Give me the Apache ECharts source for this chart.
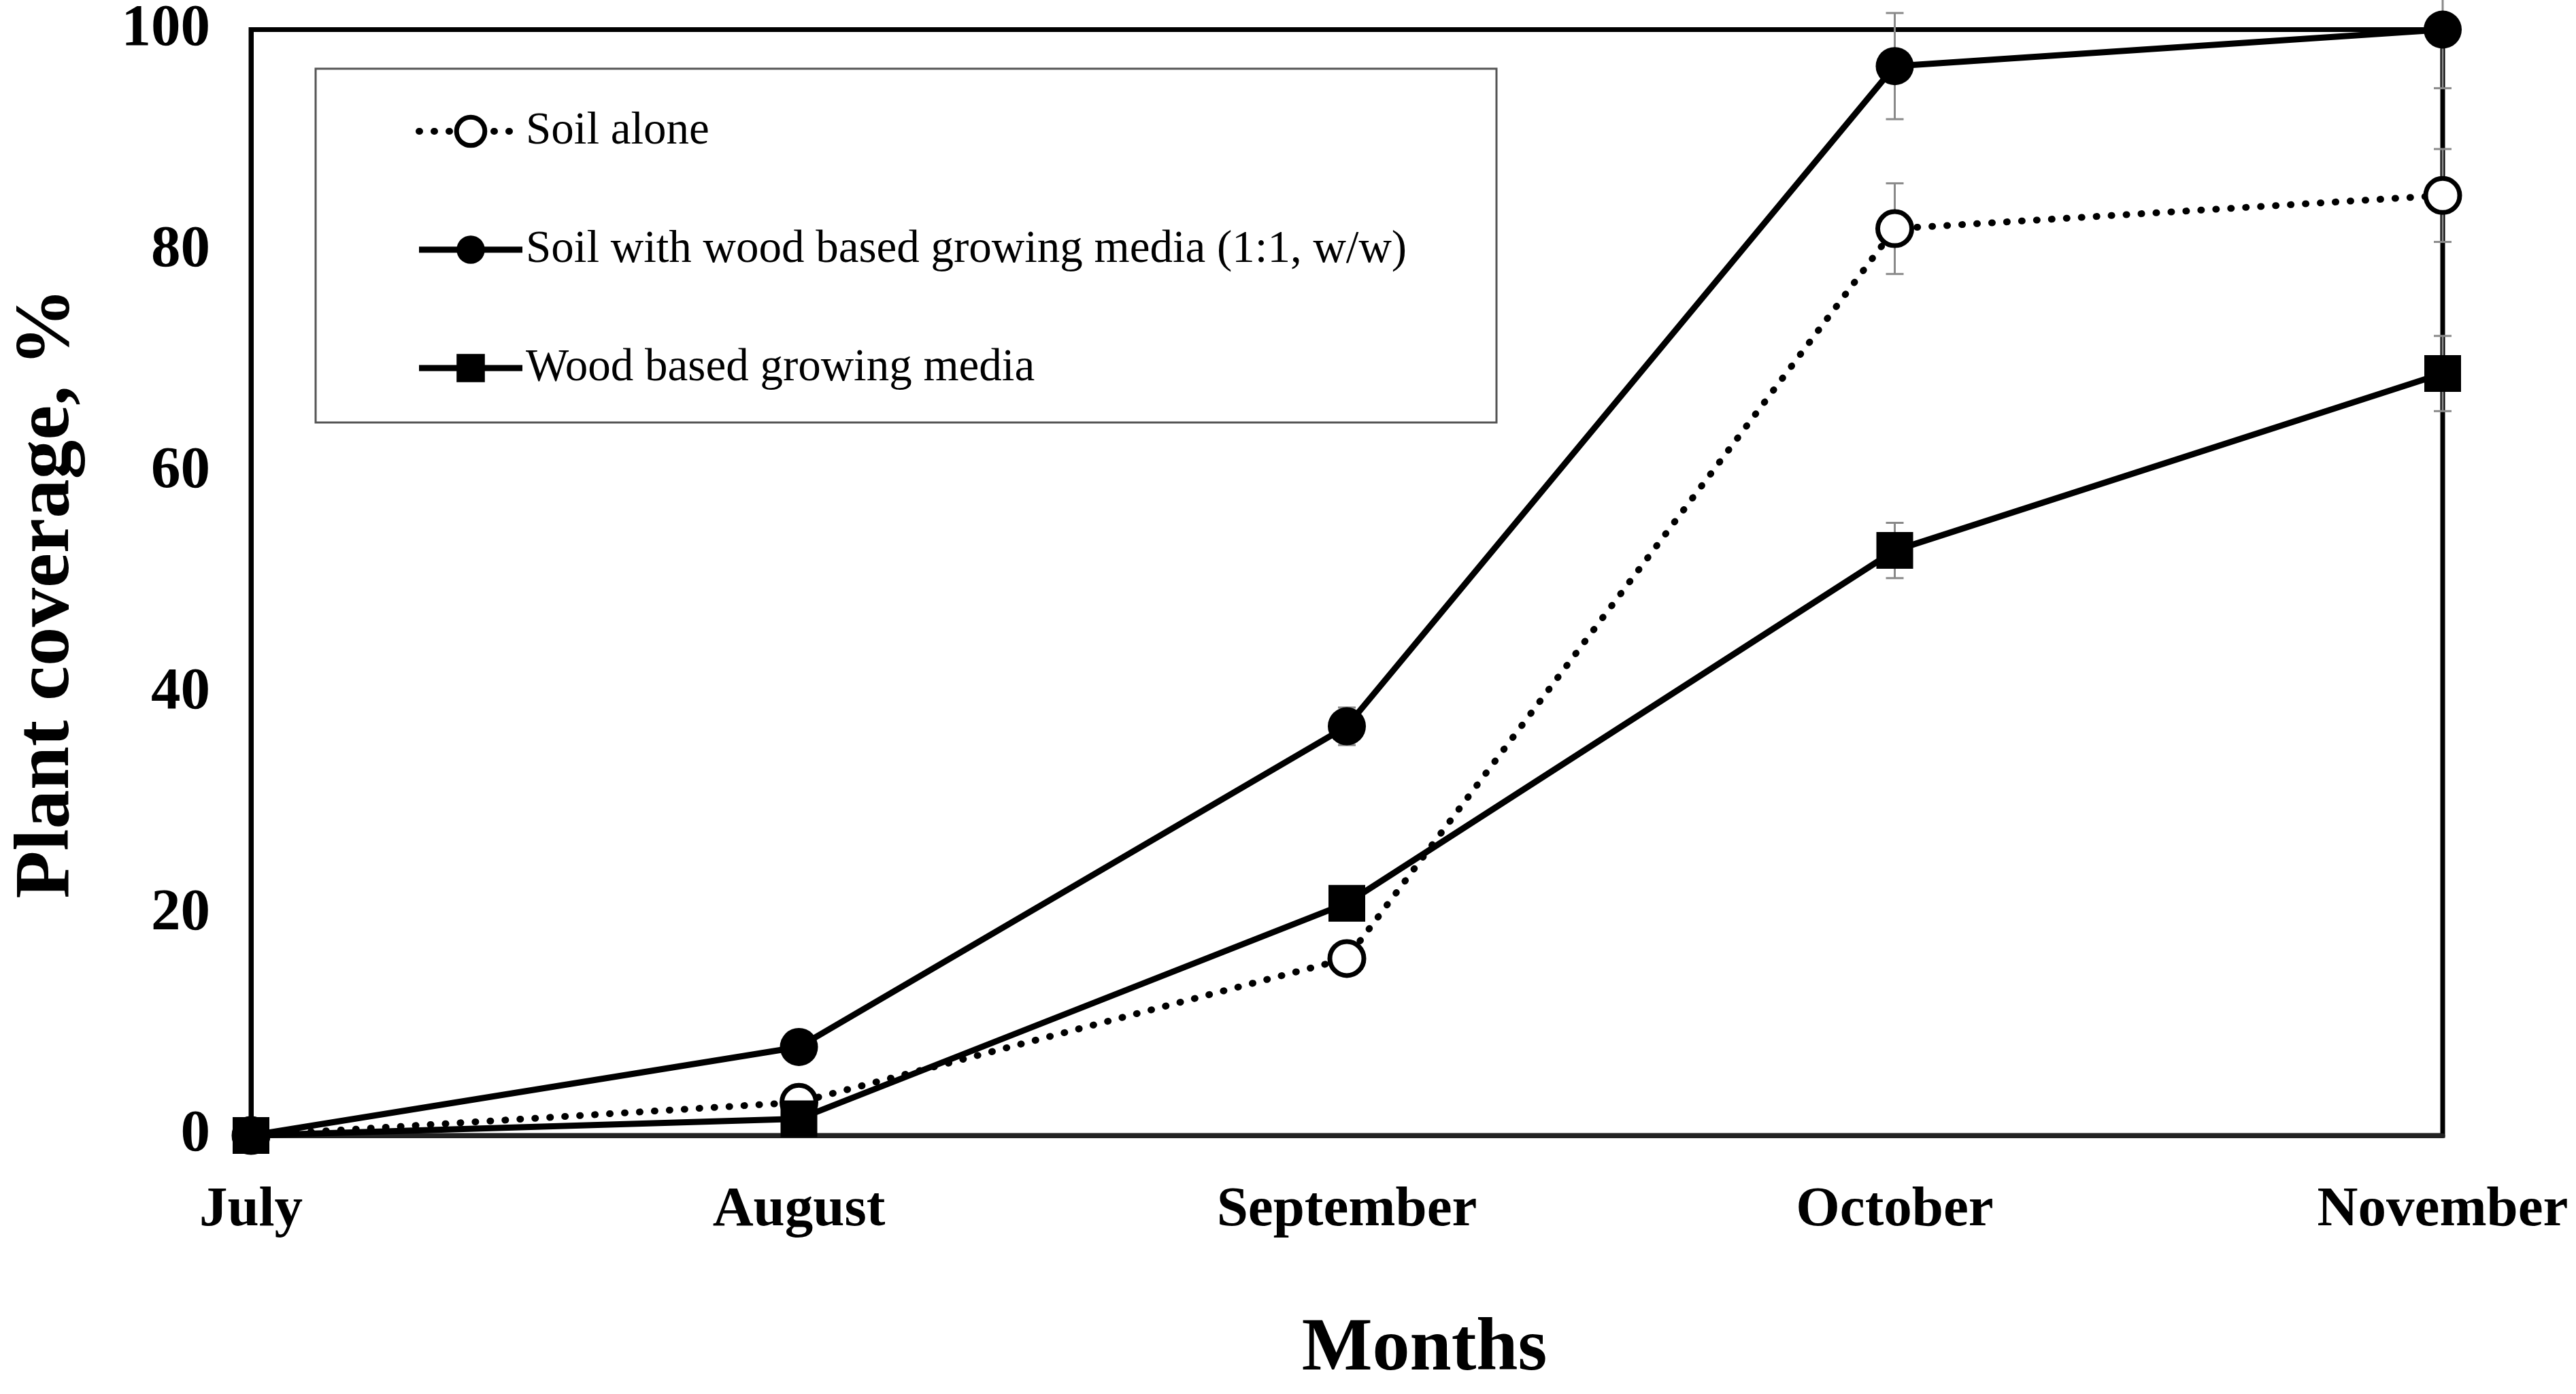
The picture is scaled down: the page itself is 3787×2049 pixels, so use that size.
<!DOCTYPE html>
<html><head><meta charset="utf-8">
<script src="https://cdn.jsdelivr.net/npm/echarts@6/dist/echarts.min.js"></script>
<style>html,body{margin:0;padding:0;background:#fff}#c{width:3787px;height:2049px}</style>
</head><body><div id="c"></div>
<script>
const months = ['July', 'August', 'September', 'October', 'November'];
const yTicks = [0, 20, 40, 60, 80, 100];
const soilAlone = [0, 3, 16, 82, 85];
const soilAloneErr = [0, 0, 0, 4.1, 4.2];
const soilMix = [0, 8, 37, 96.7, 100];
const soilMixErr = [0, 0, 1.7, 4.8, 5.3];
const woodMedia = [0, 1.5, 21, 52.9, 68.9];
const woodMediaErr = [0, 0, 0, 2.5, 3.4];
const names = ['Soil alone', 'Soil with wood based growing media (1:1, w/w)', 'Wood based growing media'];

const FONT = 'Liberation Serif';
function errData(vals, errs) {
  return vals.map((v, i) => [i, v - errs[i], v + errs[i]]).filter((d, i) => errs[i] > 0);
}
function errSeries(vals, errs) {
  return {
    type: 'custom', silent: true, z: 1,
    data: errData(vals, errs),
    renderItem: function (params, api) {
      const lo = api.coord([api.value(0), api.value(1)]);
      const hi = api.coord([api.value(0), api.value(2)]);
      const w = 13;
      const st = { stroke: '#8a8a8a', lineWidth: 3 };
      return { type: 'group', children: [
        { type: 'line', shape: { x1: lo[0], y1: lo[1], x2: hi[0], y2: hi[1] }, style: st },
        { type: 'line', shape: { x1: lo[0] - w, y1: lo[1], x2: lo[0] + w, y2: lo[1] }, style: st },
        { type: 'line', shape: { x1: hi[0] - w, y1: hi[1], x2: hi[0] + w, y2: hi[1] }, style: st }
      ]};
    }
  };
}

const chart = echarts.init(document.getElementById('c'), null, { renderer: 'canvas' });
chart.setOption({
  animation: false,
  backgroundColor: '#fff',
  grid: { left: 369, right: 196, top: 43, bottom: 380, show: true, borderColor: '#000', borderWidth: 7, backgroundColor: 'transparent' },
  xAxis: {
    type: 'category', data: months, boundaryGap: false,
    axisLine: { show: true, lineStyle: { color: '#222', width: 7 } },
    axisTick: { show: false },
    axisLabel: { margin: 69, fontFamily: FONT, fontWeight: 'bold', fontSize: 83, color: '#000' },
    splitLine: { show: false }
  },
  yAxis: {
    type: 'value', min: yTicks[0], max: yTicks[yTicks.length - 1], interval: 20,
    axisLine: { show: true, lineStyle: { color: '#000', width: 7 } },
    axisTick: { show: false },
    axisLabel: { margin: 60, fontFamily: FONT, fontWeight: 'bold', fontSize: 87, color: '#000' },
    splitLine: { show: false }
  },
  legend: {
    show: true, orient: 'vertical', left: 606, top: 153,
    itemWidth: 152, itemHeight: 52, itemGap: 104,
    lineStyle: { width: 'inherit' },
    itemStyle: { borderWidth: 'inherit' },
    textStyle: { fontFamily: FONT, fontSize: 67, color: '#000', lineHeight: 70 },
    data: names
  },
  graphic: [
    { type: 'rect', z: 100, shape: { x: 464, y: 101, width: 1736, height: 520 }, style: { fill: 'none', stroke: '#555', lineWidth: 3 } },
    { type: 'text', x: 70, y: 872, rotation: Math.PI / 2, style: { text: 'Plant coverage, %', fontFamily: FONT, fontWeight: 'bold', fontSize: 115, fill: '#000', align: 'center', verticalAlign: 'middle' } },
    { type: 'text', x: 2094, y: 1985, style: { text: 'Months', fontFamily: FONT, fontWeight: 'bold', fontSize: 110, fill: '#000', align: 'center', verticalAlign: 'middle' } }
  ],
  series: [
    errSeries(soilAlone, soilAloneErr),
    errSeries(soilMix, soilMixErr),
    errSeries(woodMedia, woodMediaErr),
    {
      name: names[0], type: 'line', data: soilAlone, clip: false, z: 3,
      symbol: 'circle', symbolSize: 50,
      itemStyle: { color: '#fff', borderColor: '#000', borderWidth: 7 },
      lineStyle: { color: '#000', width: 10, type: [1, 21], cap: 'round' }
    },
    {
      name: names[1], type: 'line', data: soilMix, clip: false, z: 4,
      symbol: 'circle', symbolSize: 56,
      itemStyle: { color: '#000', borderColor: '#000', borderWidth: 0 },
      lineStyle: { color: '#000', width: 9 }
    },
    {
      name: names[2], type: 'line', data: woodMedia, clip: false, z: 4,
      symbol: 'rect', symbolSize: 54,
      itemStyle: { color: '#000', borderColor: '#000', borderWidth: 0 },
      lineStyle: { color: '#000', width: 9 }
    }
  ]
});
</script></body></html>
